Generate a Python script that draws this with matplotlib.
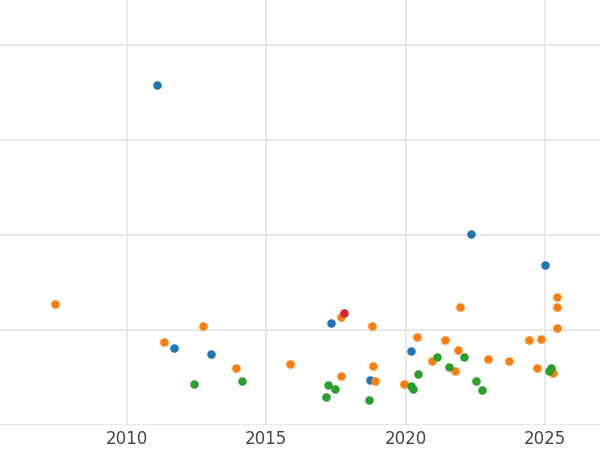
import matplotlib
matplotlib.use("Agg")
import matplotlib.pyplot as plt

blue_x = [2011.08, 2011.68, 2013.01, 2017.31, 2018.71, 2020.18, 2022.33, 2024.98]
blue_y = [3.58, 0.81, 0.745, 1.08, 0.48, 0.78, 2.01, 1.68]
orange_x = [2007.42, 2011.33, 2012.72, 2013.91, 2015.84, 2017.67, 2017.67, 2018.78, 2018.82, 2018.89,
            2019.93, 2020.39, 2020.93, 2021.40, 2021.76, 2021.86, 2021.94, 2022.94, 2023.69, 2024.44,
            2024.70, 2024.84, 2025.27, 2025.41, 2025.41, 2025.41]
orange_y = [1.27, 0.88, 1.04, 0.60, 0.64, 1.14, 0.52, 1.04, 0.62, 0.47,
            0.43, 0.93, 0.68, 0.90, 0.57, 0.79, 1.24, 0.70, 0.68, 0.90,
            0.60, 0.91, 0.55, 1.35, 1.24, 1.02]
green_x = [2012.40, 2014.12, 2017.13, 2017.20, 2017.46, 2018.67, 2020.18, 2020.25, 2020.43, 2021.11,
           2021.54, 2022.11, 2022.54, 2022.72, 2025.13, 2025.23]
green_y = [0.43, 0.47, 0.30, 0.42, 0.38, 0.27, 0.41, 0.38, 0.54, 0.72,
           0.61, 0.72, 0.47, 0.37, 0.57, 0.60]
red_x = [2017.78]
red_y = [1.18]

fig = plt.figure(figsize=(6, 4.5), dpi=100)
ax = fig.add_axes([0, 0.055, 1, 0.945])
ax.scatter(blue_x, blue_y, s=38, color="#1f77b4", zorder=3, linewidths=0)
ax.scatter(orange_x, orange_y, s=38, color="#ff7f0e", zorder=3, linewidths=0)
ax.scatter(green_x, green_y, s=38, color="#2ca02c", zorder=3, linewidths=0)
ax.scatter(red_x, red_y, s=38, color="#d62728", zorder=4, linewidths=0)
ax.set_xlim(2005.45, 2026.97)
ax.set_ylim(0, 4.47)
ax.set_xticks([2010, 2015, 2020, 2025])
ax.set_yticks([0, 1, 2, 3, 4])
ax.set_yticklabels([])
ax.grid(True, color="#e5e5e5", linewidth=1.2, zorder=0)
for s in ax.spines.values():
    s.set_visible(False)
ax.tick_params(axis="both", length=0, labelsize=12, labelcolor="#444444")
fig.savefig("out.png")
